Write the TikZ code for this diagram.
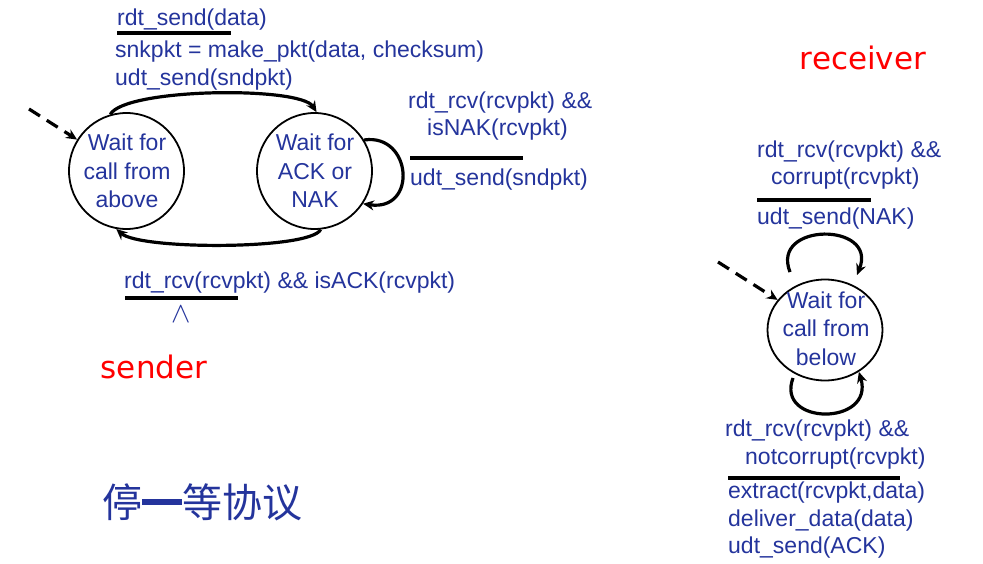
\documentclass[tikz,border=0pt]{standalone}
\usepackage{fontspec}
\setmainfont{Liberation Sans}
\newfontfamily\cjk{Noto Sans CJK SC}
\newfontfamily\redfont{DejaVu Sans}
\usetikzlibrary{arrows.meta,shapes.geometric}
\definecolor{tblue}{RGB}{36,52,156}
\definecolor{tred}{RGB}{255,0,0}
\begin{document}
\begin{tikzpicture}[x=1pt,y=-1pt,
  lbl/.style={text=tblue,font=\fontsize{23}{28.5}\selectfont,inner sep=0pt,anchor=west,text height=17pt,text depth=5pt},
  stnode/.style={draw,ellipse,line width=1.8pt,inner sep=0pt},
  sttext/.style={text=tblue,font=\fontsize{23}{28.5}\selectfont,align=center,inner sep=0pt},
  arr/.style={line width=3.2pt,-{Stealth[length=11pt,width=10pt]}},
  dasharr/.style={arr,dash pattern=on 13pt off 8pt},
  bar/.style={line width=4pt},
  tag/.style={text=tred,font=\redfont\fontsize{31}{36}\selectfont,inner sep=0pt}
]
\useasboundingbox (0,0) rectangle (983,564);

% ---------- sender ----------
\node[stnode,minimum width=115pt,minimum height=116pt] (s1) at (126.5,171) {};
\node[sttext] (s1t) at (127,171) {Wait for\\call from\\above};
\node[stnode,minimum width=115pt,minimum height=116pt] (s2) at (314.5,171) {};
\node[sttext] (s2t) at (315,171) {Wait for\\ACK or\\NAK};

\coordinate (d1) at (29,109);
\draw[dasharr] (d1) -- (s1);
\draw[arr] (s1.106) .. controls (125,88) and (300,86) .. (s2.88);
\draw[arr] (s2.-84) .. controls (310,250) and (140,250) .. (s1.-100);
\draw[arr] (s2.32) .. controls (412,133) and (418,212) .. (s2.-34);

\node[lbl] (a1) at (117,20) {rdt\_send(data)};
\draw[bar] (117,33) -- (231,33);
\node[lbl] (a2) at (115,52) {snkpkt = make\_pkt(data, checksum)};
\node[lbl] (a3) at (115,80) {udt\_send(sndpkt)};

\node[lbl] (b1) at (408,103) {rdt\_rcv(rcvpkt) \&\&};
\node[lbl] (b2) at (427,130) {isNAK(rcvpkt)};
\draw[bar] (410,158) -- (523,158);
\node[lbl] (b3) at (410,180) {udt\_send(sndpkt)};

\node[lbl] (c1) at (124,282) {rdt\_rcv(rcvpkt) \&\& isACK(rcvpkt)};
\draw[bar] (125,298) -- (238,298);
\node[text=tblue,inner sep=0pt] (c2) at (181,314) {\scalebox{2.9}{$\wedge$}};

\node[tag] (sender) at (154,367) {sender};
\node[text=tblue,font=\cjk\fontsize{40}{40}\selectfont,inner sep=0pt] (title) at (202,502) {停\rule[12.5pt]{40pt}{6pt}等协议};

% ---------- receiver ----------
\node[tag] (receiver) at (863,58) {receiver};

\node[stnode,minimum width=115pt,minimum height=101pt] (r1) at (825,330) {};
\node[sttext] (r1t) at (826,328.5) {Wait for\\call from\\below};

\coordinate (d2) at (718,262);
\draw[dasharr] (d2) -- (r1);
\coordinate (rt1) at (790,272);
\coordinate (rt2) at (857,275);
\draw[arr] (rt1) .. controls (770,222) and (878,222) .. (rt2);
\coordinate (rb1) at (793,378);
\draw[arr] (rb1) .. controls (775,426) and (875,426) .. (r1.-51);

\node[lbl] (e1) at (757,152) {rdt\_rcv(rcvpkt) \&\&};
\node[lbl] (e2) at (771,179) {corrupt(rcvpkt)};
\draw[bar] (757,200) -- (871,200);
\node[lbl] (e3) at (757,219) {udt\_send(NAK)};

\node[lbl] (f1) at (725,430) {rdt\_rcv(rcvpkt) \&\&};
\node[lbl] (f2) at (745,458) {notcorrupt(rcvpkt)};
\draw[bar] (728,478) -- (900,478);
\node[lbl] (f3) at (728,492) {extract(rcvpkt,data)};
\node[lbl] (f4) at (728,520) {deliver\_data(data)};
\node[lbl] (f5) at (728,547) {udt\_send(ACK)};
\end{tikzpicture}
\end{document}
